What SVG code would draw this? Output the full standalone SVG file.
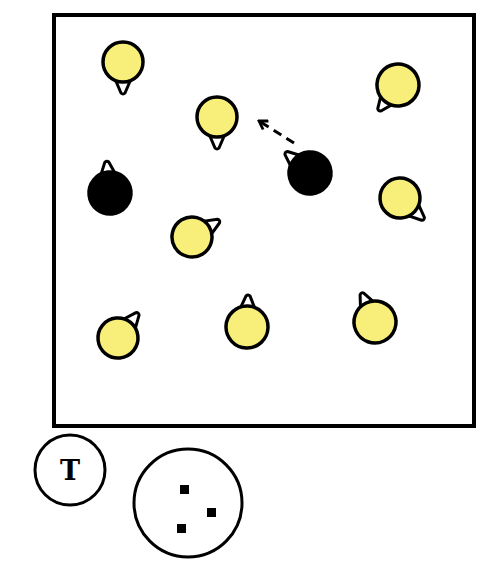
<svg xmlns="http://www.w3.org/2000/svg" width="504" height="582" viewBox="0 0 504 582">
<style>
.frame{fill:#fff;stroke:#000;stroke-width:4}
.ball{stroke:#000;stroke-width:3.5}
.y{fill:#f7ef7a}
.b{fill:#000}
.tail{fill:#fff;stroke:#000;stroke-width:3;stroke-linejoin:round}
.conn{fill:none;stroke:#000;stroke-width:3;stroke-dasharray:9,6}
.ring{fill:#fff;stroke:#000;stroke-width:3}
.dot{fill:#000}
</style>
<defs>
<path id="tail" d="M-8,-17 L-2,-31 Q0,-33 2,-31 L8,-17 Z"/>
<marker id="arr" viewBox="0 0 12 12" refX="10" refY="6" markerWidth="12" markerHeight="12" markerUnits="userSpaceOnUse" orient="auto">
<path d="M2,1 L10,6 L2,11" fill="none" stroke="#000" stroke-width="2.8"/>
</marker>
</defs>
<rect class="frame" x="54" y="15" width="420" height="411"/>
<g id="connectors">
<path class="conn" d="M294,143 L259,121" marker-end="url(#arr)"/>
</g>
<g id="n1" transform="translate(123,62) rotate(180)"><use href="#tail" class="tail"/><circle class="ball y" r="20"/></g>
<g id="n2" transform="translate(217,117) rotate(180)"><use href="#tail" class="tail"/><circle class="ball y" r="20"/></g>
<g id="n3" transform="translate(398,85) rotate(217)"><use href="#tail" class="tail"/><circle class="ball y" r="21"/></g>
<g id="n4" transform="translate(310,173) rotate(-50)"><use href="#tail" class="tail"/><circle class="ball b" r="21"/></g>
<g id="n5" transform="translate(400,198) rotate(132)"><use href="#tail" class="tail"/><circle class="ball y" r="20"/></g>
<g id="n6" transform="translate(110,193) rotate(-6)"><use href="#tail" class="tail"/><circle class="ball b" r="21"/></g>
<g id="n7" transform="translate(192,237) rotate(59)"><use href="#tail" class="tail"/><circle class="ball y" r="20"/></g>
<g id="n8" transform="translate(118,338) rotate(39)"><use href="#tail" class="tail"/><circle class="ball y" r="20"/></g>
<g id="n9" transform="translate(247,327) rotate(2)"><use href="#tail" class="tail"/><circle class="ball y" r="21"/></g>
<g id="n10" transform="translate(375,322) rotate(-25)"><use href="#tail" class="tail"/><circle class="ball y" r="21"/></g>
<g id="t">
<circle class="ring" cx="70" cy="470" r="35"/>
<text x="70" y="480" text-anchor="middle" font-family="DejaVu Serif, serif" font-weight="bold" font-size="27">T</text>
</g>
<g id="dots">
<circle class="ring" cx="188" cy="503" r="54"/>
<rect class="dot" x="180" y="485" width="9" height="9"/>
<rect class="dot" x="207" y="508" width="9" height="9"/>
<rect class="dot" x="177" y="524" width="9" height="9"/>
</g>
</svg>
